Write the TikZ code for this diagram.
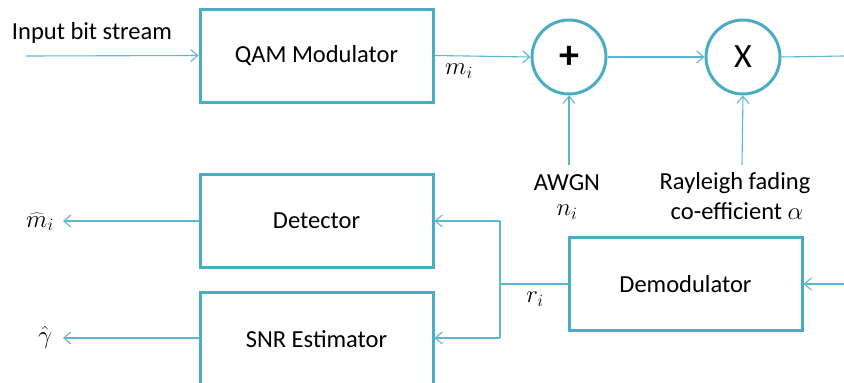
\documentclass[tikz,border=0pt]{standalone}
\usepackage{fontspec}
\setmainfont{Carlito}
\usetikzlibrary{arrows.meta}
\definecolor{boxc}{HTML}{4BACC6}
\definecolor{linec}{HTML}{5DB7D1}
\begin{document}
\begin{tikzpicture}[x=1pt,y=-1pt,
  blk/.style={draw=boxc,line width=3pt,minimum width=233pt,minimum height=93pt,inner sep=0pt,font=\fontsize{24.5}{28}\selectfont},
  op/.style={draw=boxc,line width=3pt,circle,minimum size=74pt,inner sep=0pt},
  conn/.style={draw=linec,line width=1.1pt},
  arr/.style={conn,-{Straight Barb[length=7pt,width=12pt,line width=1.1pt]}},
  lbl/.style={font=\fontsize{24.5}{28}\selectfont,inner sep=0pt},
  mlbl/.style={font=\fontsize{26.5}{30}\selectfont,inner sep=0pt}]
\useasboundingbox (0,0) rectangle (844,383);
\node[blk] (qam) at (316.5,55.5) {QAM Modulator};
\node[blk] (det) at (316.5,221) {Detector};
\node[blk] (snr) at (316.5,339) {SNR Estimator};
\node[blk] (dem) at (685.5,284) {Demodulator};
\node[op] (plus) at (569,57) {\fontsize{40}{40}\selectfont\textbf{+}};
\node[op] (mul) at (743,57) {\fontsize{34}{34}\selectfont X};
\node[lbl] (inlbl) at (92,33) {Input bit stream};
\coordinate (in) at (26,56);
\coordinate (out) at (844,56);
\coordinate (awgn) at (569,165);
\coordinate (ray) at (742,165);
\coordinate (rin) at (844,284);
\coordinate (j) at (500,284);
\coordinate (jt) at (500,221);
\coordinate (jb) at (500,338);
\coordinate (mo) at (63,221);
\coordinate (go) at (63,338);
\node[mlbl] (mi) at (459,71) {$m_i$};
\node[lbl] (awgnl) at (567,183) {AWGN};
\node[mlbl] (ni) at (567,212) {$n_i$};
\node[lbl] (rayl) at (735,183) {Rayleigh fading};
\node[lbl] (coef) at (737,211) {co-efficient $\alpha$};
\node[mlbl] (ri) at (535,299) {$r_i$};
\node[mlbl] (mhat) at (40,222) {$\widehat{m}_i$};
\node[mlbl] (ghat) at (45,337) {$\hat{\gamma}$};
\draw[arr] (in) -- (qam.west);
\draw[arr] (qam.east) -- (plus.west);
\draw[arr] (plus.east) -- (mul.west);
\draw[conn] (mul.east) -- (out);
\draw[arr] (awgn) -- (plus.south);
\draw[arr] (ray) -- (mul.south);
\draw[arr] (rin) -- (dem.east);
\draw[conn] (dem.west) -- (j);
\draw[conn] (jt) -- (jb);
\draw[arr] (jt) -- (det.east);
\draw[arr] (jb) -- (snr.east |- jb);
\draw[arr] (det.west) -- (mo);
\draw[arr] (snr.west |- go) -- (go);
\end{tikzpicture}
\end{document}
